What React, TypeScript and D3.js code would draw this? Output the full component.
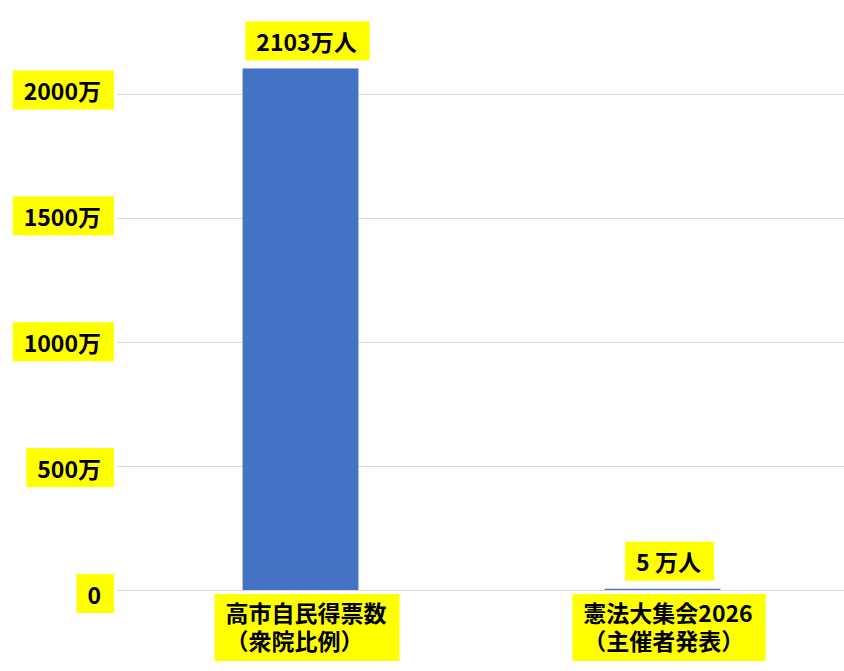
import React, { useEffect, useRef } from "react";
import * as d3 from "d3";

const categories = ["高市自民得票数\n（衆院比例）", "憲法大集会2026\n（主催者発表）"];
const values = [2103, 5];
const valueLabels = ["2103万人", "5 万人"];
const yTicks = [0, 500, 1000, 1500, 2000];
const yTickLabels = ["0", "500万", "1000万", "1500万", "2000万"];

const W = 844;
const H = 671;
const FONT = "'Noto Sans CJK JP', 'Noto Sans', sans-serif";
const FS = 23;
const BAR_SHIFT = -5.5;

export default function App() {
  const ref = useRef<SVGSVGElement | null>(null);

  useEffect(() => {
    const svg = d3.select(ref.current);
    svg.selectAll("*").remove();

    const y = d3.scaleLinear().domain([0, 2000]).range([590, 94]);
    // tick label boxes are spread slightly wider than the gridlines in the reference
    const yLabel = d3.scaleLinear().domain([0, 2000]).range([593.5, 90]);
    const x = d3
      .scaleBand<string>()
      .domain(categories)
      .range([125, 849])
      .paddingInner(0.68)
      .paddingOuter(0.34);

    const plotLeft = 117;

    // gridlines
    svg
      .append("g")
      .selectAll("line")
      .data(yTicks)
      .join("line")
      .attr("x1", plotLeft)
      .attr("x2", W)
      .attr("y1", (d) => Math.round(y(d)) + 0.5)
      .attr("y2", (d) => Math.round(y(d)) + 0.5)
      .attr("stroke", "#d9d9d9")
      .attr("stroke-width", 1);

    // bars
    svg
      .append("g")
      .selectAll("rect")
      .data(values)
      .join("rect")
      .attr("x", (_, i) => (x(categories[i]) as number) + BAR_SHIFT)
      .attr("width", x.bandwidth())
      .attr("y", (d) => y(d))
      .attr("height", (d) => y(0) - y(d))
      .attr("fill", "#4472c4");

    const padL = 11;
    const padR = 13;
    const boxH = 39;

    const labelBox = (
      g: d3.Selection<SVGGElement, unknown, null, undefined>,
      text: string,
      anchorX: number,
      centerY: number,
      anchor: "end" | "middle"
    ) => {
      const rect = g.append("rect").attr("fill", "#ffff00");
      const t = g
        .append("text")
        .attr("x", anchorX)
        .attr("y", centerY)
        .attr("text-anchor", anchor)
        .attr("dominant-baseline", "central")
        .attr("font-family", FONT)
        .attr("font-weight", "bold")
        .attr("font-size", FS)
        .attr("fill", "#000")
        .style("white-space", "pre")
        .text(text);
      const w = (t.node() as SVGTextElement).getComputedTextLength();
      const left = anchor === "end" ? anchorX - w : anchorX - w / 2;
      rect
        .attr("x", left - padL)
        .attr("width", w + padL + padR)
        .attr("y", centerY - boxH / 2)
        .attr("height", boxH);
    };

    // y tick labels
    const gy = svg.append("g");
    yTicks.forEach((v, i) => {
      labelBox(gy, yTickLabels[i], 101, yLabel(v), "end");
    });

    // value labels
    const gv = svg.append("g");
    values.forEach((v, i) => {
      const cx = (x(categories[i]) as number) + x.bandwidth() / 2 + 0.5;
      const bottom = y(v) - 8;
      labelBox(gv, valueLabels[i], cx, bottom - boxH / 2, "middle");
    });

    // category labels
    const gc = svg.append("g");
    categories.forEach((c, i) => {
      const cx = (x(c) as number) + x.bandwidth() / 2;
      const lines = c.split("\n");
      const g = gc.append("g");
      const rect = g.append("rect").attr("fill", "#ffff00");
      const texts = lines.map((ln, j) =>
        g
          .append("text")
          .attr("y", 612 + j * 28)
          .attr("dominant-baseline", "central")
          .attr("font-family", FONT)
          .attr("font-weight", "bold")
          .attr("font-size", FS)
          .attr("fill", "#000")
          .text(ln)
      );
      const widths = texts.map((t) => (t.node() as SVGTextElement).getComputedTextLength());
      const maxW = Math.max(...widths);
      const left = cx - maxW / 2;
      texts.forEach((t) => t.attr("x", left));
      rect
        .attr("x", left - padL)
        .attr("width", maxW + padL + padR)
        .attr("y", 594)
        .attr("height", 67);
    });
  }, []);

  return (
    <svg
      ref={ref}
      width={W}
      height={H}
      style={{ position: "absolute", left: 0, top: 0, background: "#fff" }}
    />
  );
}
